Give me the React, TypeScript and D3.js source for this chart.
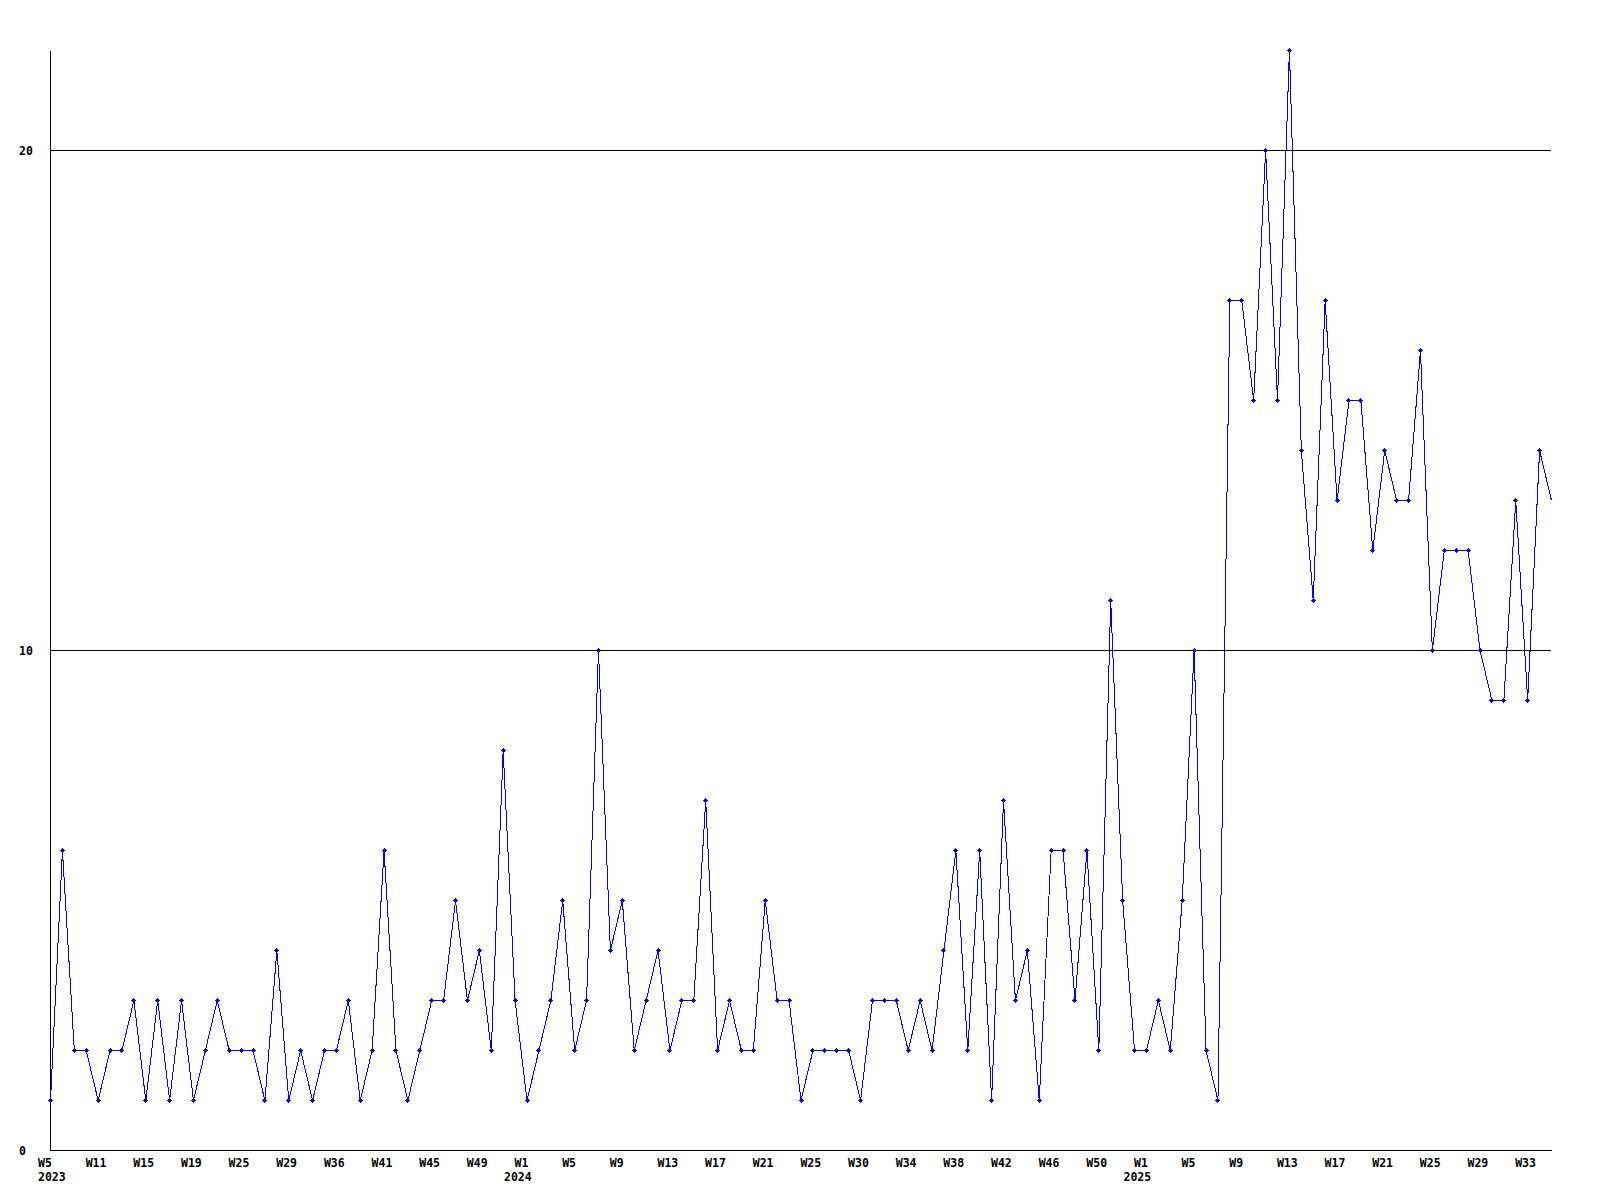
import React, { useEffect, useRef } from 'react';
import * as d3 from 'd3';

// one value per reported week, oldest first (last one is the running week)
const weeklyCounts: number[] = [
  1, 6, 2, 2, 1, 2, 2, 3, 1, 3,
  1, 3, 1, 2, 3, 2, 2, 2, 1, 4,
  1, 2, 1, 2, 2, 3, 1, 2, 6, 2,
  1, 2, 3, 3, 5, 3, 4, 2, 8, 3,
  1, 2, 3, 5, 2, 3, 10, 4, 5, 2,
  3, 4, 2, 3, 3, 7, 2, 3, 2, 2,
  5, 3, 3, 1, 2, 2, 2, 2, 1, 3,
  3, 3, 2, 3, 2, 4, 6, 2, 6, 1,
  7, 3, 4, 1, 6, 6, 3, 6, 2, 11,
  5, 2, 2, 3, 2, 5, 10, 2, 1, 17,
  17, 15, 20, 15, 22, 14, 11, 17, 13, 15,
  15, 12, 14, 13, 13, 16, 10, 12, 12, 12,
  10, 9, 9, 13, 9, 14, 13,
];

// a label on every 4th point
const labelStep = 4;
const weekLabels: string[] = [
  'W5', 'W11', 'W15', 'W19', 'W25', 'W29', 'W36', 'W41', 'W45', 'W49',
  'W1', 'W5', 'W9', 'W13', 'W17', 'W21', 'W25', 'W30', 'W34', 'W38',
  'W42', 'W46', 'W50',
  'W1', 'W5', 'W9', 'W13', 'W17', 'W21', 'W25', 'W29', 'W33',
];
// which week label gets a year under it
const yearLabelSlots: number[] = [0, 10, 23];
const yearLabels: string[] = ['2023', '2024', '2025'];

const yTicks: number[] = [0, 10, 20];
const yMax = 22;

const FONT = '"DejaVu Sans Mono", "Liberation Mono", monospace';

// small filled plus, the marker of the old gd charts
const plusMarker: d3.SymbolType = {
  draw(context) {
    context.rect(-1.5, -1.5, 3, 3);
    context.rect(-2.5, -0.5, 5, 1);
    context.rect(-0.5, -2.5, 1, 5);
  },
};

const WeeklyChart: React.FC = () => {
  const svgRef = useRef<SVGSVGElement>(null);

  useEffect(() => {
    if (!svgRef.current) return;
    const svg = d3.select(svgRef.current);
    svg.selectAll('*').remove();

    const left = 50.5;
    const right = 1551.5;
    const top = 50.5;
    const bottom = 1150.5;
    const n = weeklyCounts.length;

    const x = d3.scaleLinear().domain([0, n - 1]).range([left, right]);
    const y = d3.scaleLinear().domain([0, yMax]).range([bottom, top]);

    // y axis + horizontal grid lines
    const yAxis = svg
      .append('g')
      .attr('transform', `translate(${left},0)`)
      .call(
        d3
          .axisLeft(y)
          .tickValues(yTicks)
          .tickSizeInner(-(right - left - 1))
          .tickSizeOuter(0)
          .offset(0)
          .tickFormat(d3.format('d'))
      );
    yAxis.attr('font-family', FONT).attr('font-size', 11.5).attr('font-weight', 'bold');
    yAxis.selectAll('path, line').attr('stroke', '#000').attr('shape-rendering', 'crispEdges');
    yAxis
      .selectAll('text')
      .attr('fill', '#000')
      .attr('text-anchor', 'start')
      .attr('x', 19 - left)
      .attr('dy', null)
      .attr('y', 4);

    // x axis with week labels and the year under the first week of a year
    const xAxis = svg
      .append('g')
      .attr('transform', `translate(0,${bottom})`)
      .call(
        d3
          .axisBottom(x)
          .tickValues(d3.range(0, n, labelStep))
          .tickSize(0)
          .offset(0)
          .tickFormat((_d, i) => weekLabels[i] ?? '')
      );
    xAxis.attr('font-family', FONT).attr('font-size', 11.5).attr('font-weight', 'bold');
    xAxis.select('.domain').attr('stroke', '#000').attr('shape-rendering', 'crispEdges');
    xAxis
      .selectAll('text')
      .attr('fill', '#000')
      .attr('text-anchor', 'start')
      .attr('x', -12.5)
      .attr('dy', null)
      .attr('y', 16);

    xAxis
      .selectAll('.year')
      .data(yearLabels)
      .enter()
      .append('text')
      .attr('class', 'year')
      .attr('fill', '#000')
      .attr('text-anchor', 'start')
      .attr('x', (_d, i) => Math.max(x(yearLabelSlots[i] * labelStep) - 23, x(0) - 12.5))
      .attr('y', 30)
      .text((d) => d);

    // the series line
    const line = d3
      .line<number>()
      .x((_d, i) => x(i))
      .y((d) => y(d));

    svg
      .append('path')
      .datum(weeklyCounts)
      .attr('fill', 'none')
      .attr('stroke', '#0000ff')
      .attr('stroke-width', 1)
      .attr('shape-rendering', 'crispEdges')
      .attr('d', line);

    // markers, the running (last) week has none
    const marker = d3.symbol(plusMarker);
    svg
      .selectAll('.dot')
      .data(weeklyCounts.slice(0, n - 1))
      .enter()
      .append('path')
      .attr('class', 'dot')
      .attr('fill', '#0000ff')
      .attr('shape-rendering', 'crispEdges')
      .attr('transform', (d, i) => `translate(${x(i)},${y(d)})`)
      .attr('d', marker);
  }, []);

  return (
    <svg
      ref={svgRef}
      width={1600}
      height={1200}
      style={{ position: 'absolute', left: 0, top: 0, background: '#fff' }}
    />
  );
};

export default function App() {
  return <WeeklyChart />;
}
